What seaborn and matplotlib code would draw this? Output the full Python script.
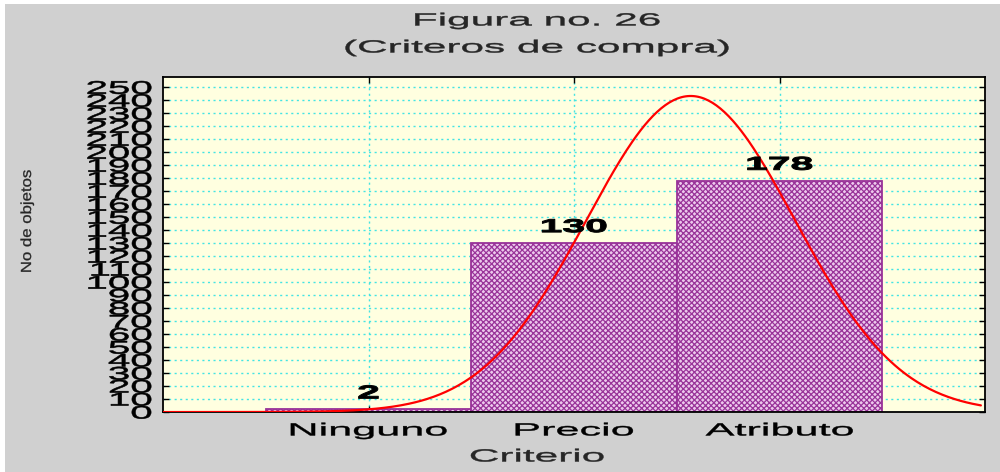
import matplotlib
matplotlib.use("Agg")
import matplotlib.pyplot as plt
import numpy as np
import seaborn as sns
from matplotlib.patches import Rectangle
from matplotlib.patheffects import AbstractPathEffect
from matplotlib.transforms import Affine2D

# Datos
categorias = ["Ninguno", "Precio", "Atributo"]
conteos = [2, 130, 178]
yticks = list(range(0, 251, 10))

GRIS = "#d0d0d0"
FONDO = "#ffffe0"
MORADO = "#993399"


class Widen(AbstractPathEffect):
    """Stretch text glyphs horizontally (the original uses a wide font)."""

    def __init__(self, sx, anchor="center", lw=0.3):
        super().__init__()
        self.sx = sx
        self.anchor = anchor
        self.lw = lw

    def draw_path(self, renderer, gc, tpath, affine, rgbFace=None):
        ext = tpath.get_extents()
        if self.anchor == "right":
            x0 = ext.x1
        elif self.anchor == "left":
            x0 = ext.x0
        else:
            x0 = (ext.x0 + ext.x1) / 2
        st = Affine2D().translate(-x0, 0).scale(self.sx, 1).translate(x0, 0)
        gc0 = renderer.new_gc()
        gc0.copy_properties(gc)
        gc0.set_linewidth(self.lw)
        gc0.set_foreground(rgbFace)
        renderer.draw_path(gc0, tpath, st + affine, rgbFace)
        gc0.restore()


sns.set_theme(style="ticks")
plt.rcParams["font.family"] = ["Liberation Sans", "DejaVu Sans"]
plt.rcParams["hatch.linewidth"] = 0.9

fig = plt.figure(figsize=(10, 4.72), dpi=100, facecolor="white")
fig.add_artist(Rectangle((0.005, 0), 0.995, 468 / 472, transform=fig.transFigure,
                         facecolor=GRIS, edgecolor="none", zorder=-1))
ax = fig.add_axes([0.163, 0.127, 0.822, 0.710])
ax.set_facecolor(FONDO)

sns.barplot(x=categorias, y=conteos, order=categorias, width=1, ax=ax,
            color="#ecc8ec", saturation=1, edgecolor=MORADO, linewidth=1.3,
            hatch="xxxxxx", errorbar=None, zorder=2)

# curva normal ajustada a los datos (posiciones 0, 1, 2)
pos = np.arange(len(categorias))
n = np.sum(conteos)
media = np.sum(pos * np.array(conteos)) / n
sd = np.sqrt(np.sum(np.array(conteos) * (pos - media) ** 2) / n)
xs = np.linspace(-1, 2.98, 400)
ys = n / (sd * np.sqrt(2 * np.pi)) * np.exp(-0.5 * ((xs - media) / sd) ** 2)
ax.plot(xs, ys, color="red", linewidth=1.6, zorder=3)

for i, v in enumerate(conteos):
    ax.text(i, v + 12, str(v), ha="center", va="center", fontsize=13.4,
            fontweight="bold", color="black", zorder=4,
            path_effects=[Widen(2.2, lw=0.7)])

ax.set_xlim(-1, 3)
ax.set_ylim(0, 258)
ax.set_yticks(yticks)
ax.set_yticklabels([str(t) for t in yticks])
ax.set_xticks(pos)
ax.set_xticklabels(categorias)
ax.set_xlabel("")
ax.set_ylabel("")

ax.set_axisbelow(True)
ax.grid(True, color="#44e4e4", linestyle=(0, (1.5, 2.5)), linewidth=1)

ax.tick_params(axis="y", direction="in", left=True, right=True, length=4,
               width=1, pad=8, labelsize=13.2, colors="black")
ax.tick_params(axis="x", direction="in", top=True, bottom=True, length=4,
               width=1, pad=7.5, labelsize=12.7, colors="black")
for s in ax.spines.values():
    s.set_color("black")
    s.set_linewidth(1.3)
    s.set_visible(True)

for t in ax.get_yticklabels():
    t.set_path_effects([Widen(2.2, "right", lw=0.4)])
for t in ax.get_xticklabels():
    t.set_path_effects([Widen(2.45)])

fig.text(0.537, 1 - 21 / 472, "Figura no. 26", ha="center", va="center",
         fontsize=12.7, path_effects=[Widen(2.4)])
fig.text(0.537, 1 - 48 / 472, "(Criteros de compra)", ha="center", va="center",
         fontsize=12.7, path_effects=[Widen(2.4)])
fig.text(0.537, 1 - 457 / 472, "Criterio", ha="center", va="center",
         fontsize=12.7, path_effects=[Widen(2.4)])
fig.text(0.027, 1 - 221 / 472, "No de objetos", ha="center", va="center",
         rotation=90, fontsize=10.5, path_effects=[Widen(1.15, lw=0.2)])

plt.savefig("out.png", dpi=100, facecolor=fig.get_facecolor())
plt.close()
